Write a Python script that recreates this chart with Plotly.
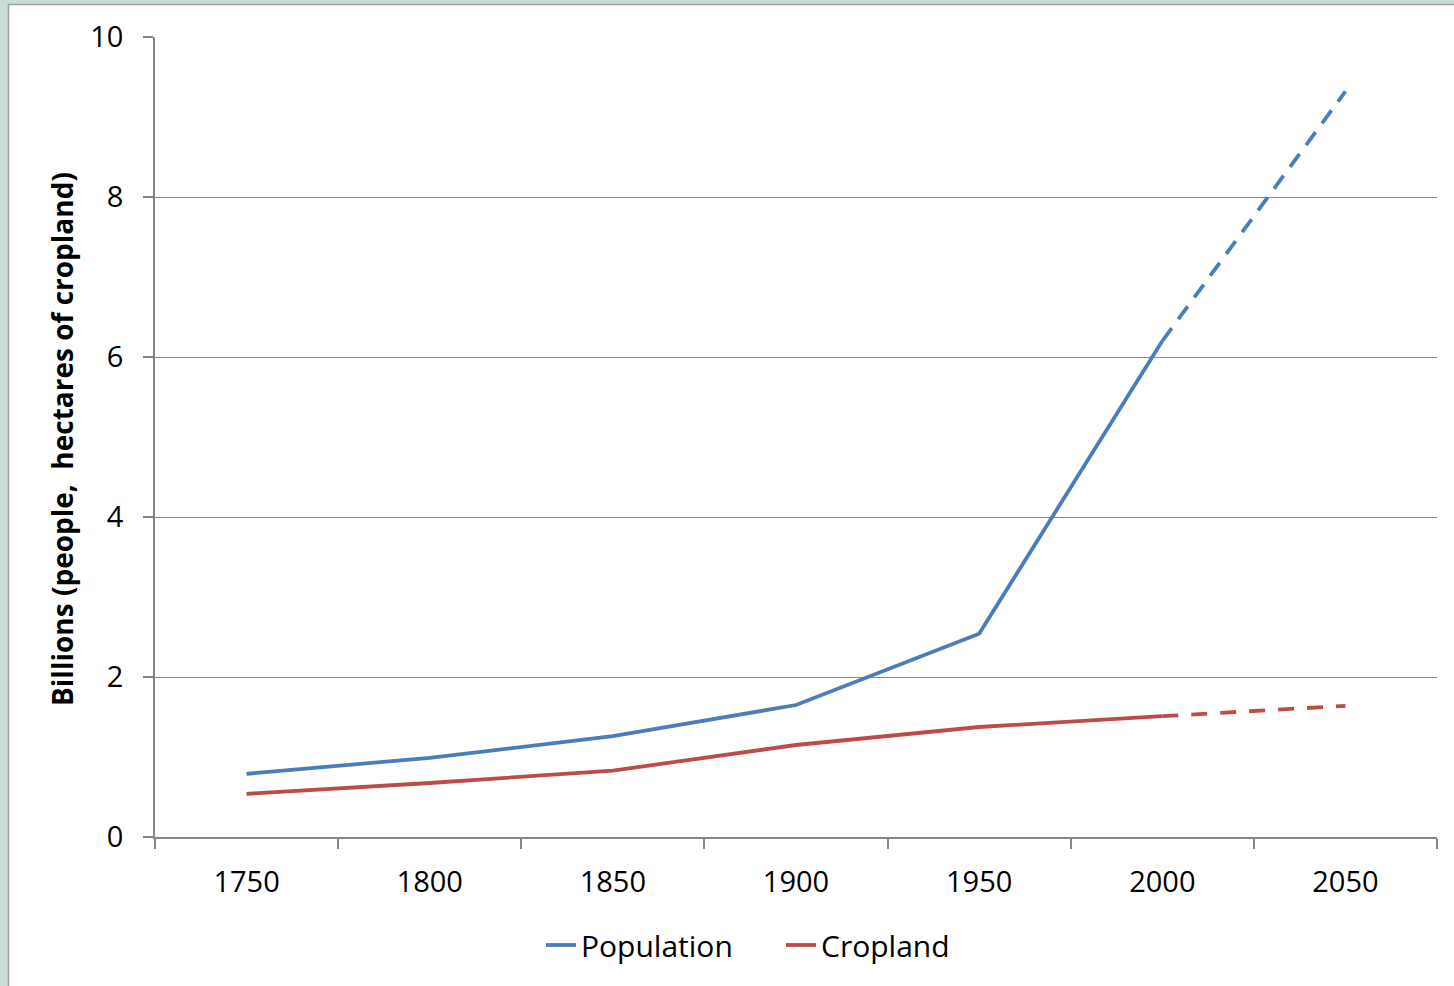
import plotly.graph_objects as go

years = ["1750", "1800", "1850", "1900", "1950", "2000", "2050"]
population = [0.79, 0.99, 1.26, 1.65, 2.54, 6.2, 9.32]
cropland = [0.54, 0.675, 0.83, 1.15, 1.375, 1.51, 1.64]
y_ticks = [0, 2, 4, 6, 8, 10]

BLUE = "#4a7ebb"
RED = "#be4b48"
FONT = "Open Sans"
LW = 3.8

fig = go.Figure()
# solid historical part
fig.add_trace(go.Scatter(x=years[:6], y=population[:6], mode="lines", name="Population",
                         line=dict(color=BLUE, width=LW)))
fig.add_trace(go.Scatter(x=years[:6], y=cropland[:6], mode="lines", name="Cropland",
                         line=dict(color=RED, width=LW)))
# dashed projection
fig.add_trace(go.Scatter(x=years[5:], y=population[5:], mode="lines", showlegend=False,
                         line=dict(color=BLUE, width=LW, dash="16px,11px")))
fig.add_trace(go.Scatter(x=years[5:], y=cropland[5:], mode="lines", showlegend=False,
                         line=dict(color=RED, width=LW, dash="16px,13px")))

W, H = 1454, 986
ml, mr, mt, mb = 155, 17, 37, 149
pw, ph = W - ml - mr, H - mt - mb

def px_x(p):
    return (p - ml) / pw

def px_y(p):
    return (H - mb - p) / ph

fig.update_layout(
    width=W, height=H,
    margin=dict(l=ml, r=mr, t=mt, b=mb, pad=0),
    paper_bgcolor="#c9dcd5",
    plot_bgcolor="rgba(0,0,0,0)",
    font=dict(family=FONT, size=29, color="#000000"),
    showlegend=True,
    legend=dict(orientation="h", x=px_x(781), xanchor="center", y=px_y(945), yanchor="middle",
                font=dict(family=FONT, size=30), bgcolor="rgba(0,0,0,0)",
                itemwidth=30, tracegroupgap=0, entrywidth=195, entrywidthmode="pixels"),
    xaxis=dict(type="category", categoryorder="array", categoryarray=years,
               range=[-0.5, 6.5], showgrid=False, showline=True, linecolor="#868686",
               linewidth=1.5, ticks="outside", tickson="boundaries", ticklen=10,
               tickcolor="#868686", tickwidth=1.5, zeroline=False,
               tickfont=dict(family=FONT, size=29), ticklabelstandoff=18),
    yaxis=dict(range=[0, 10], tickvals=y_ticks, showgrid=True, gridcolor="#868686",
               gridwidth=1.2, showline=True, linecolor="#868686", linewidth=1.5,
               ticks="outside", ticklen=10, tickcolor="#868686", tickwidth=1.5,
               zeroline=False, tickfont=dict(family=FONT, size=29), ticklabelstandoff=14),
    shapes=[
        dict(type="rect", xref="paper", yref="paper", layer="below",
             x0=px_x(8.5), x1=px_x(1470), y0=px_y(1000), y1=px_y(4.5),
             fillcolor="#ffffff", line=dict(color="#9aa39f", width=1.5)),
    ],
    annotations=[
        dict(text="<b>Billions (people,  hectares of cropland)</b>", textangle=-90,
             xref="paper", yref="paper", x=px_x(62), y=px_y(439),
             xanchor="center", yanchor="middle", showarrow=False,
             font=dict(family=FONT, size=28, color="#000000")),
    ],
)

fig.write_html("out.html", config={"displayModeBar": False},
               post_script="document.body.style.margin='0';document.body.style.padding='0';")
